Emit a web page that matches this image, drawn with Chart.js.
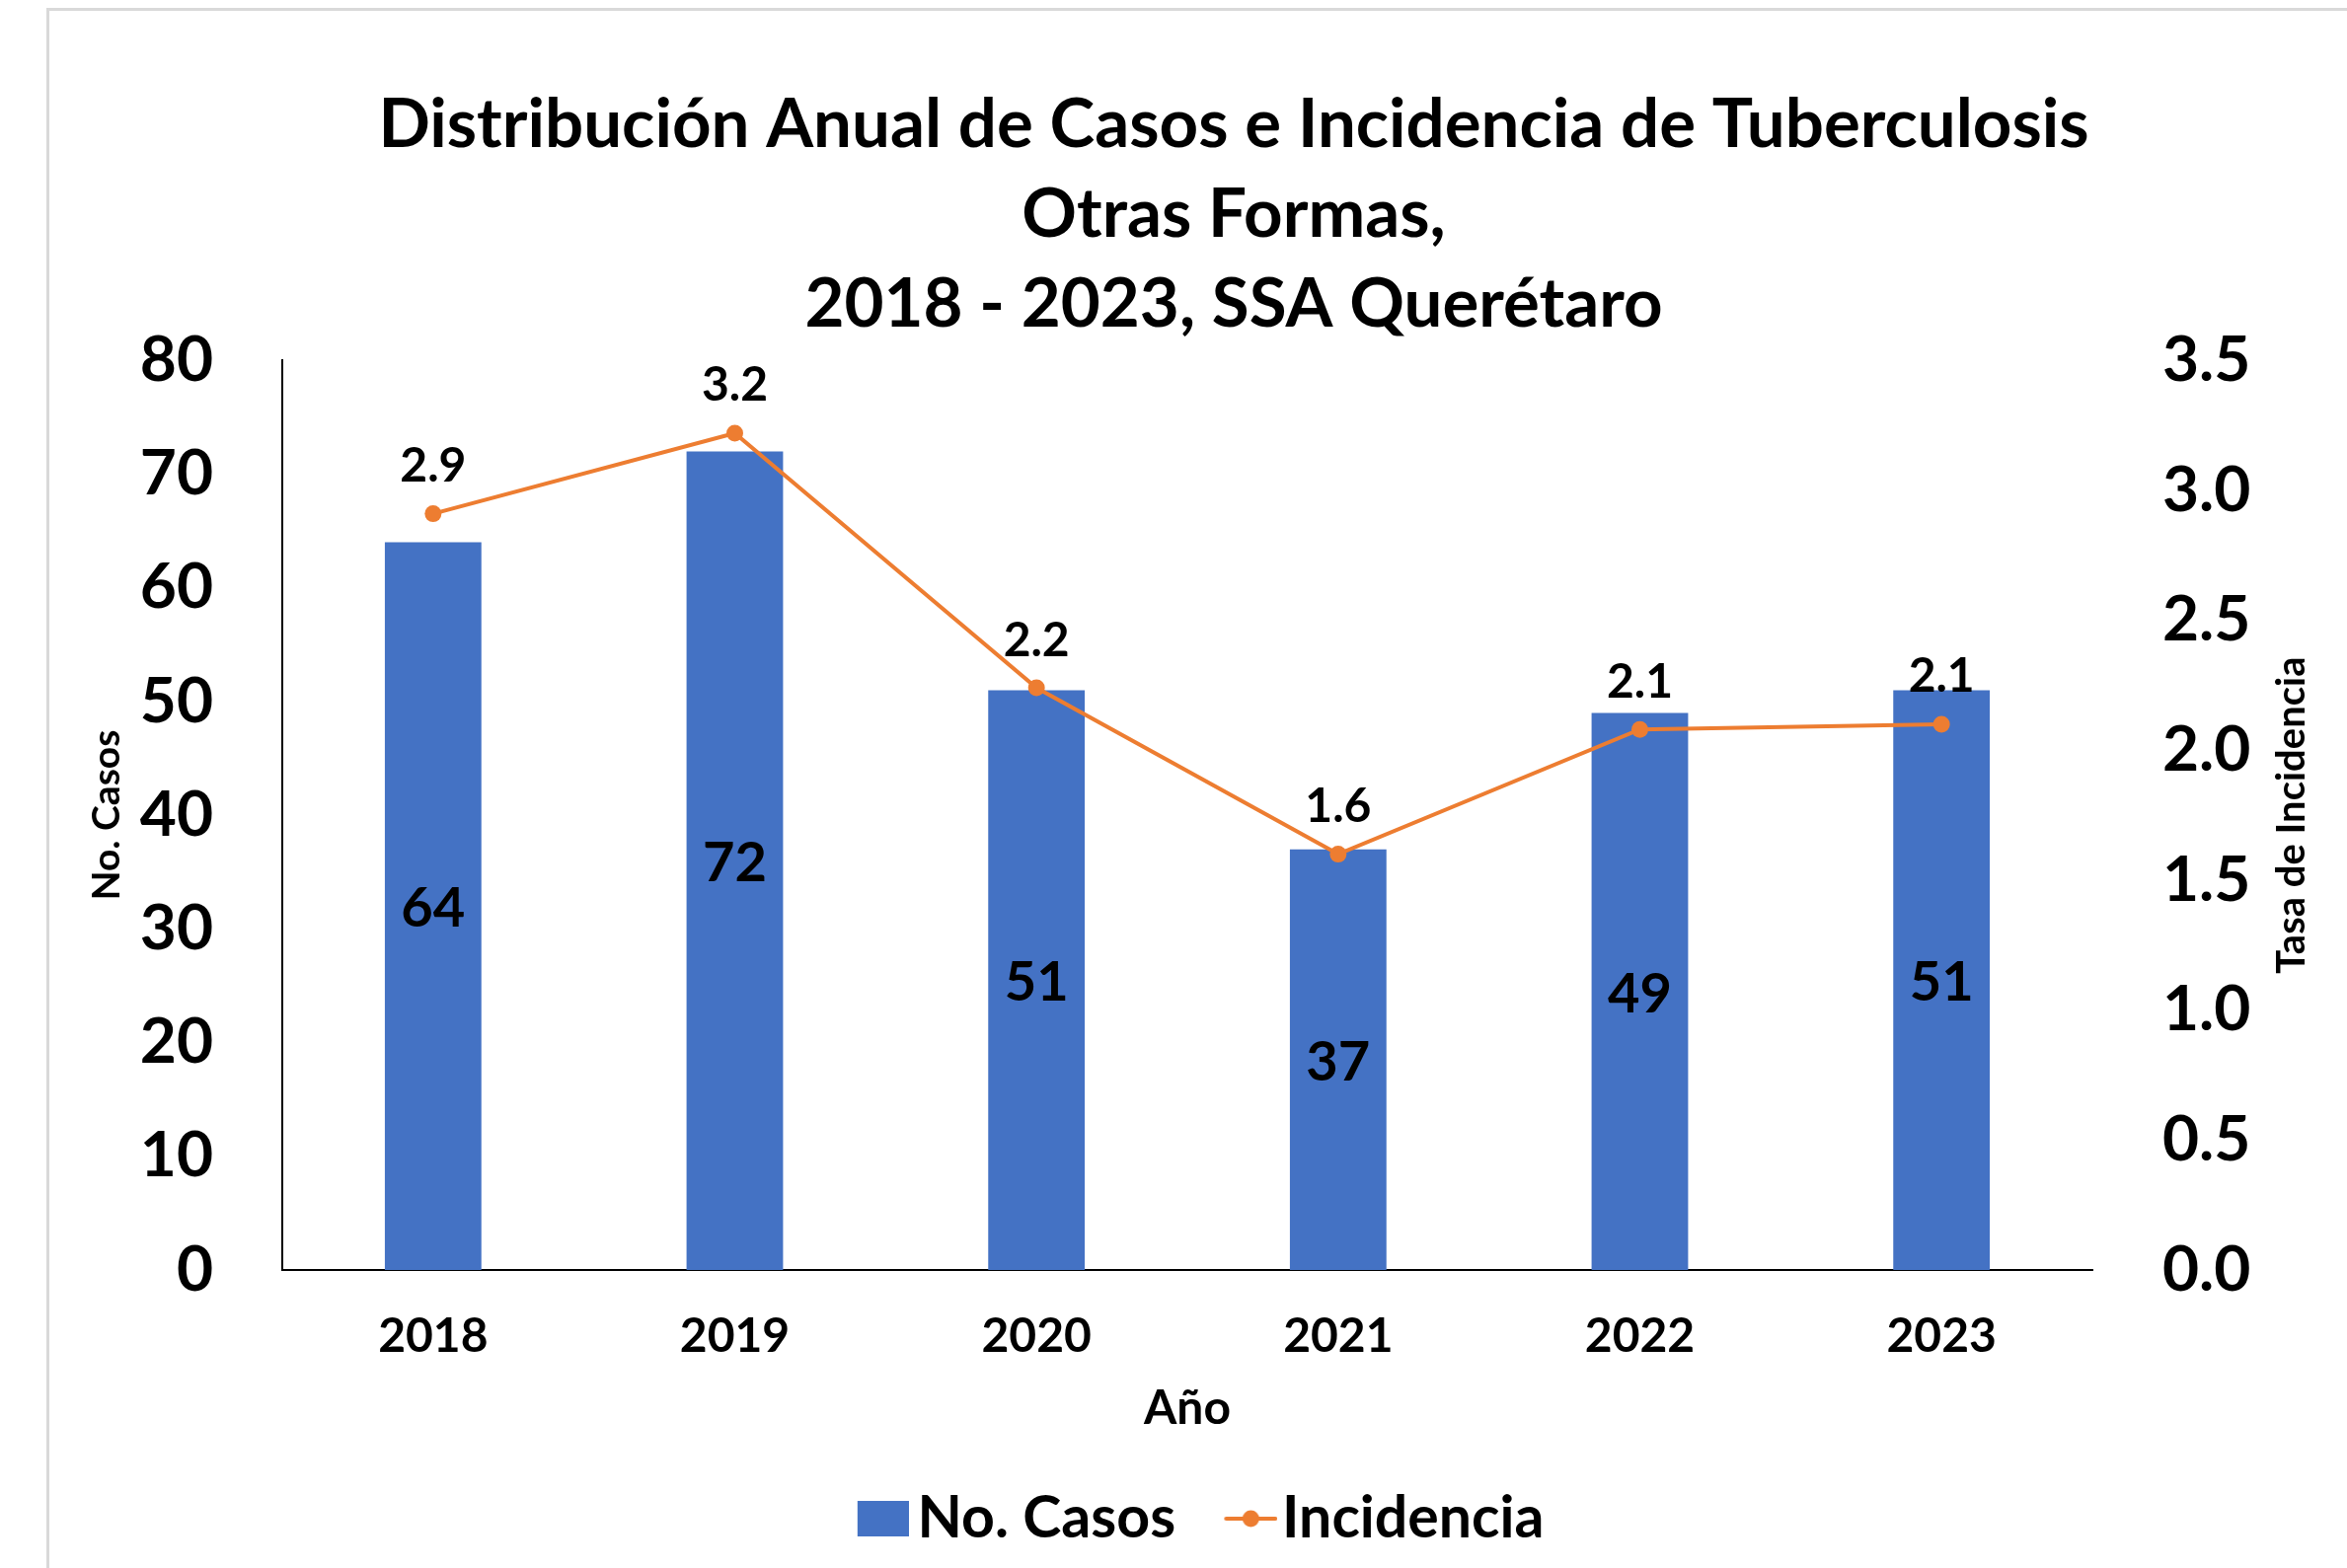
<!DOCTYPE html>
<html>
<head>
<meta charset="utf-8">
<script src="https://cdn.jsdelivr.net/npm/chart.js@4.4.0/dist/chart.umd.min.js"></script>
<style>
  body { margin: 0; background: #fff; overflow: hidden; }
  #marco { position: absolute; left: 47px; top: 8px; width: 2400px; height: 1700px;
           border-left: 3px solid #d9d9d9; border-top: 3px solid #d9d9d9; }
  #grafica { position: absolute; left: 0; top: 0; }
</style>
</head>
<body>
<div id="marco"></div>
<canvas id="grafica" width="2500" height="1589"></canvas>
<script>
// datos
const anios = ["2018", "2019", "2020", "2021", "2022", "2023"];
const casos = [64, 72, 51, 37, 49, 51];
const incidencia = [2.91, 3.22, 2.24, 1.60, 2.08, 2.10];
const titulo = ["Distribución Anual de Casos e Incidencia de Tuberculosis", "Otras Formas,", "2018 - 2023, SSA Querétaro"];

const AZUL = '#4472C4';
const NARANJA = '#ED7D31';

Chart.defaults.font.family = 'Lato';
Chart.defaults.font.weight = 'bold';
Chart.defaults.color = '#000';

// iconos de la leyenda
const iconoBarra = document.createElement('canvas');
iconoBarra.width = 100; iconoBarra.height = 36;
let c = iconoBarra.getContext('2d');
c.fillStyle = AZUL;
c.fillRect(48, 0, 52, 36);

const iconoLinea = document.createElement('canvas');
iconoLinea.width = 108; iconoLinea.height = 20;
c = iconoLinea.getContext('2d');
c.strokeStyle = NARANJA; c.lineWidth = 4; c.lineCap = 'round';
c.beginPath(); c.moveTo(56, 10); c.lineTo(106, 10); c.stroke();
c.fillStyle = NARANJA;
c.beginPath(); c.arc(81, 10, 8.5, 0, Math.PI * 2); c.fill();

// etiquetas de valores
const etiquetas = {
  id: 'etiquetas',
  afterDatasetsDraw(chart) {
    const ctx = chart.ctx;
    ctx.save();
    ctx.fillStyle = '#000';
    ctx.textAlign = 'center';
    ctx.textBaseline = 'middle';
    ctx.font = 'bold 56px Lato';
    chart.getDatasetMeta(0).data.forEach((el, i) => {
      ctx.fillText(String(casos[i]), el.x, (el.y + el.base) / 2 + 3);
    });
    ctx.font = 'bold 48px Lato';
    chart.getDatasetMeta(1).data.forEach((el, i) => {
      ctx.fillText(incidencia[i].toFixed(1), el.x, el.y - 48);
    });
    ctx.restore();
  },
  afterDraw(chart) {
    // titulo del eje derecho, de abajo hacia arriba
    const ctx = chart.ctx;
    const area = chart.chartArea;
    ctx.save();
    ctx.translate(2322, (area.top + area.bottom) / 2);
    ctx.rotate(-Math.PI / 2);
    ctx.fillStyle = '#000';
    ctx.textAlign = 'center';
    ctx.textBaseline = 'middle';
    ctx.font = 'bold 40px Lato';
    ctx.fillText('Tasa de Incidencia', 0, 0);
    ctx.restore();
  }
};

const grafica = new Chart(document.getElementById('grafica'), {
  data: {
    labels: anios,
    datasets: [
      {
        type: 'bar',
        label: 'No. Casos',
        data: casos,
        backgroundColor: AZUL,
        yAxisID: 'y',
        barPercentage: 0.32,
        categoryPercentage: 1,
        order: 1
      },
      {
        type: 'line',
        label: 'Incidencia',
        data: incidencia,
        borderColor: NARANJA,
        backgroundColor: NARANJA,
        borderWidth: 4,
        pointRadius: 8.5,
        pointBorderWidth: 0,
        pointBackgroundColor: NARANJA,
        tension: 0,
        yAxisID: 'y1',
        order: 0
      }
    ]
  },
  plugins: [etiquetas],
  options: {
    responsive: false,
    animation: false,
    layout: { padding: { top: 0, bottom: 10.5, left: 0, right: 0 } },
    plugins: {
      tooltip: { enabled: false },
      title: {
        display: true,
        text: titulo,
        color: '#000',
        font: { size: 69, weight: 'bold', lineHeight: 1.32 },
        padding: { top: 81, bottom: 11 }
      },
      legend: {
        position: 'bottom',
        fullSize: false,
        labels: {
          usePointStyle: true,
          pointStyleWidth: 58.5,
          padding: 20,
          color: '#000',
          font: { size: 59, weight: 'bold' },
          generateLabels: () => [
            { text: 'No. Casos', pointStyle: iconoBarra, fillStyle: AZUL, strokeStyle: AZUL, lineWidth: 0, hidden: false, datasetIndex: 0, fontColor: '#000' },
            { text: 'Incidencia', pointStyle: iconoLinea, fillStyle: NARANJA, strokeStyle: NARANJA, lineWidth: 0, hidden: false, datasetIndex: 1, fontColor: '#000' }
          ]
        }
      }
    },
    scales: {
      x: {
        offset: true,
        grid: { display: false, drawTicks: false },
        border: { display: true, color: '#000', width: 2 },
        ticks: { font: { size: 48 }, padding: 39, color: '#000' },
        title: { display: true, text: 'Año', color: '#000', font: { size: 48, weight: 'bold' }, padding: { top: 0, bottom: 33 } },
        afterFit: (s) => { s.height = 202.5; }
      },
      y: {
        position: 'left',
        min: 0,
        max: 80,
        ticks: { stepSize: 10, font: { size: 64 }, padding: 70, color: '#000' },
        grid: { display: false, drawTicks: false },
        border: { display: true, color: '#000', width: 2 },
        title: { display: true, text: 'No. Casos', color: '#000', font: { size: 39, weight: 'bold' }, padding: { top: 85, bottom: 0 } },
        afterFit: (s) => { s.width = 286; }
      },
      y1: {
        position: 'right',
        min: 0,
        max: 3.5,
        ticks: { stepSize: 0.5, font: { size: 64 }, padding: 71, color: '#000', callback: (v) => v.toFixed(1) },
        grid: { display: false, drawTicks: false },
        border: { display: false },
        afterFit: (s) => { s.width = 380; }
      }
    }
  }
});
</script>
</body>
</html>
